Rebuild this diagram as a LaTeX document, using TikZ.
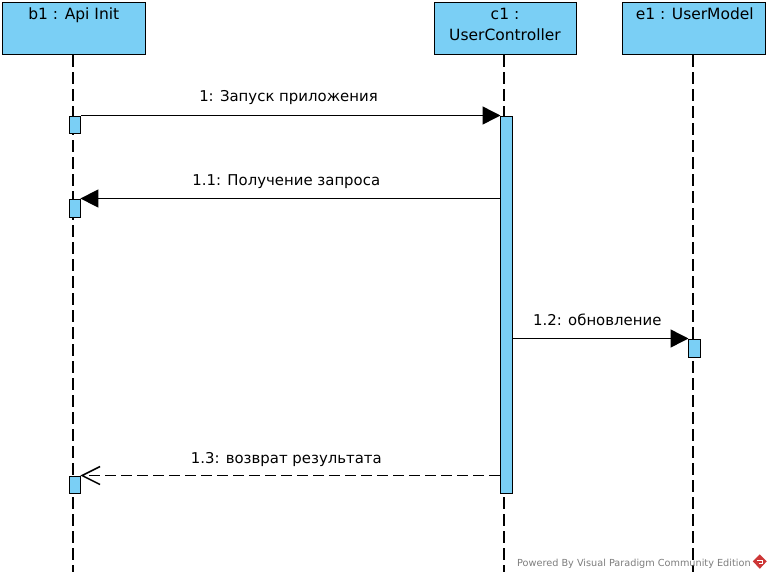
\documentclass[tikz,border=0pt]{standalone}
\usepackage{fontspec}
\setmainfont{DejaVu Sans}
\usetikzlibrary{arrows.meta}
\definecolor{vpblue}{RGB}{122,207,245}
\definecolor{vpgrey}{RGB}{125,125,125}
\definecolor{vpred}{RGB}{205,55,55}
\tikzset{
  x=1pt,y=-1pt,
  lifebox/.style={draw=black,fill=vpblue,line width=1.9pt,minimum width=143pt,minimum height=52pt,inner sep=0pt,anchor=north west},
  boxtext/.style={font=\fontsize{15.5}{21}\selectfont,align=center,anchor=base,inner sep=0pt},
  lifeline/.style={draw=black,line width=1.7pt,dash pattern=on 11.5pt off 5.5pt},
  active/.style={draw=black,fill=vpblue,line width=1.9pt,inner sep=0pt,anchor=north west},
  msg/.style={draw=black,line width=1.5pt,yshift=-0.4pt,shorten >=-1pt,-{Triangle[length=18pt,width=18pt]}},
  ret/.style={draw=black,line width=1.5pt,yshift=-0.4pt,dash pattern=on 11pt off 5pt,shorten >=-1pt,-{Straight Barb[length=18pt,width=18pt,line width=1.5pt]}},
  msglabel/.style={font=\fontsize{14.9}{16}\selectfont,anchor=base,inner sep=0pt},
  mark text/.style={font=\fontsize{9.7}{11}\selectfont,text=vpgrey,anchor=base west,inner sep=0pt}
}
\begin{document}
\begin{tikzpicture}
\useasboundingbox (0.7,0.7) rectangle (772.7,579.7);
\coordinate (bend) at (73.9,573);
\coordinate (cend) at (504.9,573);
\coordinate (eend) at (693.9,573);
\node[lifebox] (b1) at (2.2,2.2) {};
\node[lifebox,minimum width=142pt] (c1) at (434.2,2.2) {};
\node[lifebox] (e1) at (622.2,2.2) {};
\draw[lifeline] (bend |- b1.south) -- (bend);
\draw[lifeline] (cend |- c1.south) -- (cend);
\draw[lifeline] (eend |- e1.south) -- (eend);
\node[boxtext] at (74.5,19.7) {b1 : Api Init};
\node[boxtext] at (505.7,40.7) {c1 :\\UserController};
\node[boxtext] at (695.5,19.7) {e1 : UserModel};
\node[active,minimum width=11pt,minimum height=17pt] (ba) at (69.2,116.2) {};
\node[active,minimum width=11pt,minimum height=18pt] (bb) at (69.2,199.2) {};
\node[active,minimum width=11pt,minimum height=17pt] (bc) at (69.2,476.2) {};
\node[active,minimum width=12pt,minimum height=377pt] (ca) at (500.2,116.2) {};
\node[active,minimum width=12pt,minimum height=18pt] (ea) at (688.2,339.2) {};
\draw[msg] (ba.north east) -- (ca.north west);
\draw[msg] (ca.west |- bb.north) -- (bb.north east);
\draw[msg] (ca.east |- ea.north) -- (ea.north west);
\draw[ret] (ca.west |- bc.north) -- (bc.north east);
\node[msglabel] at (289.2,101.7) {1: Запуск приложения};
\node[msglabel] at (287,185.7) {1.1: Получение запроса};
\node[msglabel] at (598,325.7) {1.2: обновление};
\node[msglabel] at (287,463.7) {1.3: возврат результата};
\node[mark text] at (517.7,566.7) {Powered By Visual Paradigm Community Edition};
\fill[vpred] (760.5,555) -- (767.5,562) -- (760.5,569.5) -- (753.5,562) -- cycle;
\draw[white,line width=0.9pt] (757.5,561) -- (763,561) -- (763,564) -- (760,564);
\end{tikzpicture}
\end{document}
